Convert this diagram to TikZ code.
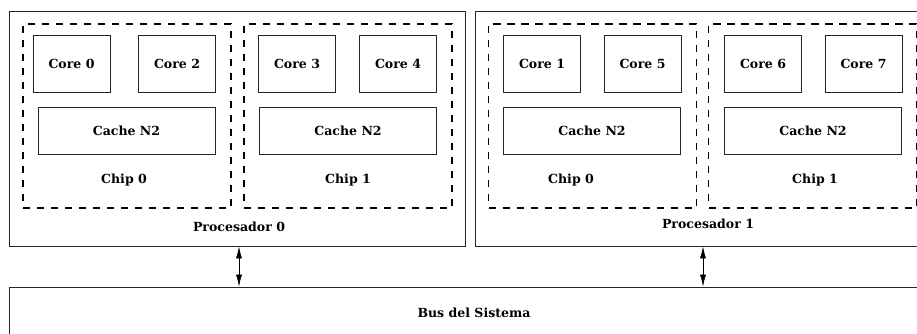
\documentclass[tikz,border=0pt]{standalone}
\usepackage{fontspec}
\setmainfont{DejaVu Serif}
\usetikzlibrary{arrows.meta}

\tikzset{every picture/.style={line width=0.6pt}}
\tikzset{
  corebox/.style={draw=black!85, minimum width=57.75pt, minimum height=42.75pt, inner sep=0pt},
  cachebox/.style={draw=black!85, minimum width=132.75pt, minimum height=35.25pt, inner sep=0pt},
  chipbox/.style={draw, dash pattern=on 5.5pt off 5pt, line width=1.4pt, minimum width=156pt, minimum height=138pt, inner sep=0pt},
  procbox/.style={draw=black!85, minimum width=342pt, minimum height=176.25pt, inner sep=0pt},
  label/.style={inner sep=0.75pt, font=\fontsize{9.4}{11}\selectfont\bfseries},
  link/.style={{Latex[length=9pt,width=4.5pt]}-{Latex[length=9pt,width=4.5pt]}, line width=0.5pt}
}

\begin{document}
\begin{tikzpicture}[x=0.75pt,y=0.75pt,yscale=-1,xscale=1]
				\useasboundingbox (0,0) rectangle (917,333);
				%Shape: Rectangle [id:proc0] 
				\node [procbox] (proc0) at (237,128.5) {};
				%Shape: Rectangle [id:proc1] 
				\node [procbox] (proc1) at (703,128.5) {};
				%Shape: Rectangle [id:bus] 
				\node [draw=black!85, minimum width=691.5pt, minimum height=47.25pt, inner sep=0pt] (bus) at (470,318.5) {};
				
				%Shape: Rectangle [id:chip00] 
				\node [chipbox] (chip00) at (127,116) {};
				%Shape: Rectangle [id:chip01] 
				\node [chipbox] (chip01) at (348,116) {};
				%Shape: Rectangle [id:chip10] 
				\node [chipbox] (chip10) at (592.5,116) {};
				%Shape: Rectangle [id:chip11] 
				\node [chipbox] (chip11) at (812.5,116) {};
				
				%Shape: Rectangle [id:core0] 
				\node [corebox, label] (core0) at (71.5,63.5) {Core 0};
				%Shape: Rectangle [id:core2] 
				\node [corebox, label] (core2) at (177,63.5) {Core 2};
				%Shape: Rectangle [id:core3] 
				\node [corebox, label] (core3) at (297,63.5) {Core 3};
				%Shape: Rectangle [id:core4] 
				\node [corebox, label] (core4) at (398,63.5) {Core 4};
				%Shape: Rectangle [id:core1] 
				\node [corebox, label] (core1) at (542,63.5) {Core 1};
				%Shape: Rectangle [id:core5] 
				\node [corebox, label] (core5) at (642.5,63.5) {Core 5};
				%Shape: Rectangle [id:core6] 
				\node [corebox, label] (core6) at (763,63.5) {Core 6};
				%Shape: Rectangle [id:core7] 
				\node [corebox, label] (core7) at (863.5,63.5) {Core 7};
				
				%Shape: Rectangle [id:cache00] 
				\node [cachebox, label] (cache00) at (126.5,130.5) {Cache N2};
				%Shape: Rectangle [id:cache01] 
				\node [cachebox, label] (cache01) at (348,130.5) {Cache N2};
				%Shape: Rectangle [id:cache10] 
				\node [cachebox, label] (cache10) at (592,130.5) {Cache N2};
				%Shape: Rectangle [id:cache11] 
				\node [cachebox, label] (cache11) at (813,130.5) {Cache N2};
				
				% Text Node
				\node [label] (chiptxt00) at (124,180) {Chip 0};
				% Text Node
				\node [label] (chiptxt01) at (348,180) {Chip 1};
				% Text Node
				\node [label] (chiptxt10) at (571,180) {Chip 0};
				% Text Node
				\node [label] (chiptxt11) at (815,180) {Chip 1};
				% Text Node
				\node [label] (proctxt0) at (239,227) {Procesador 0};
				% Text Node
				\node [label] (proctxt1) at (708,224) {Procesador 1};
				% Text Node
				\node [label] (bustxt) at (474,313) {Bus del Sistema};
				
				%Straight Lines [id:link0] 
				\draw [link] ([xshift=1.5pt]proc0.south) -- ([xshift=1.5pt]proc0.south |- bus.north);
				%Straight Lines [id:link1] 
				\draw [link] (proc1.south) -- (proc1.south |- bus.north);
\end{tikzpicture}
\end{document}
